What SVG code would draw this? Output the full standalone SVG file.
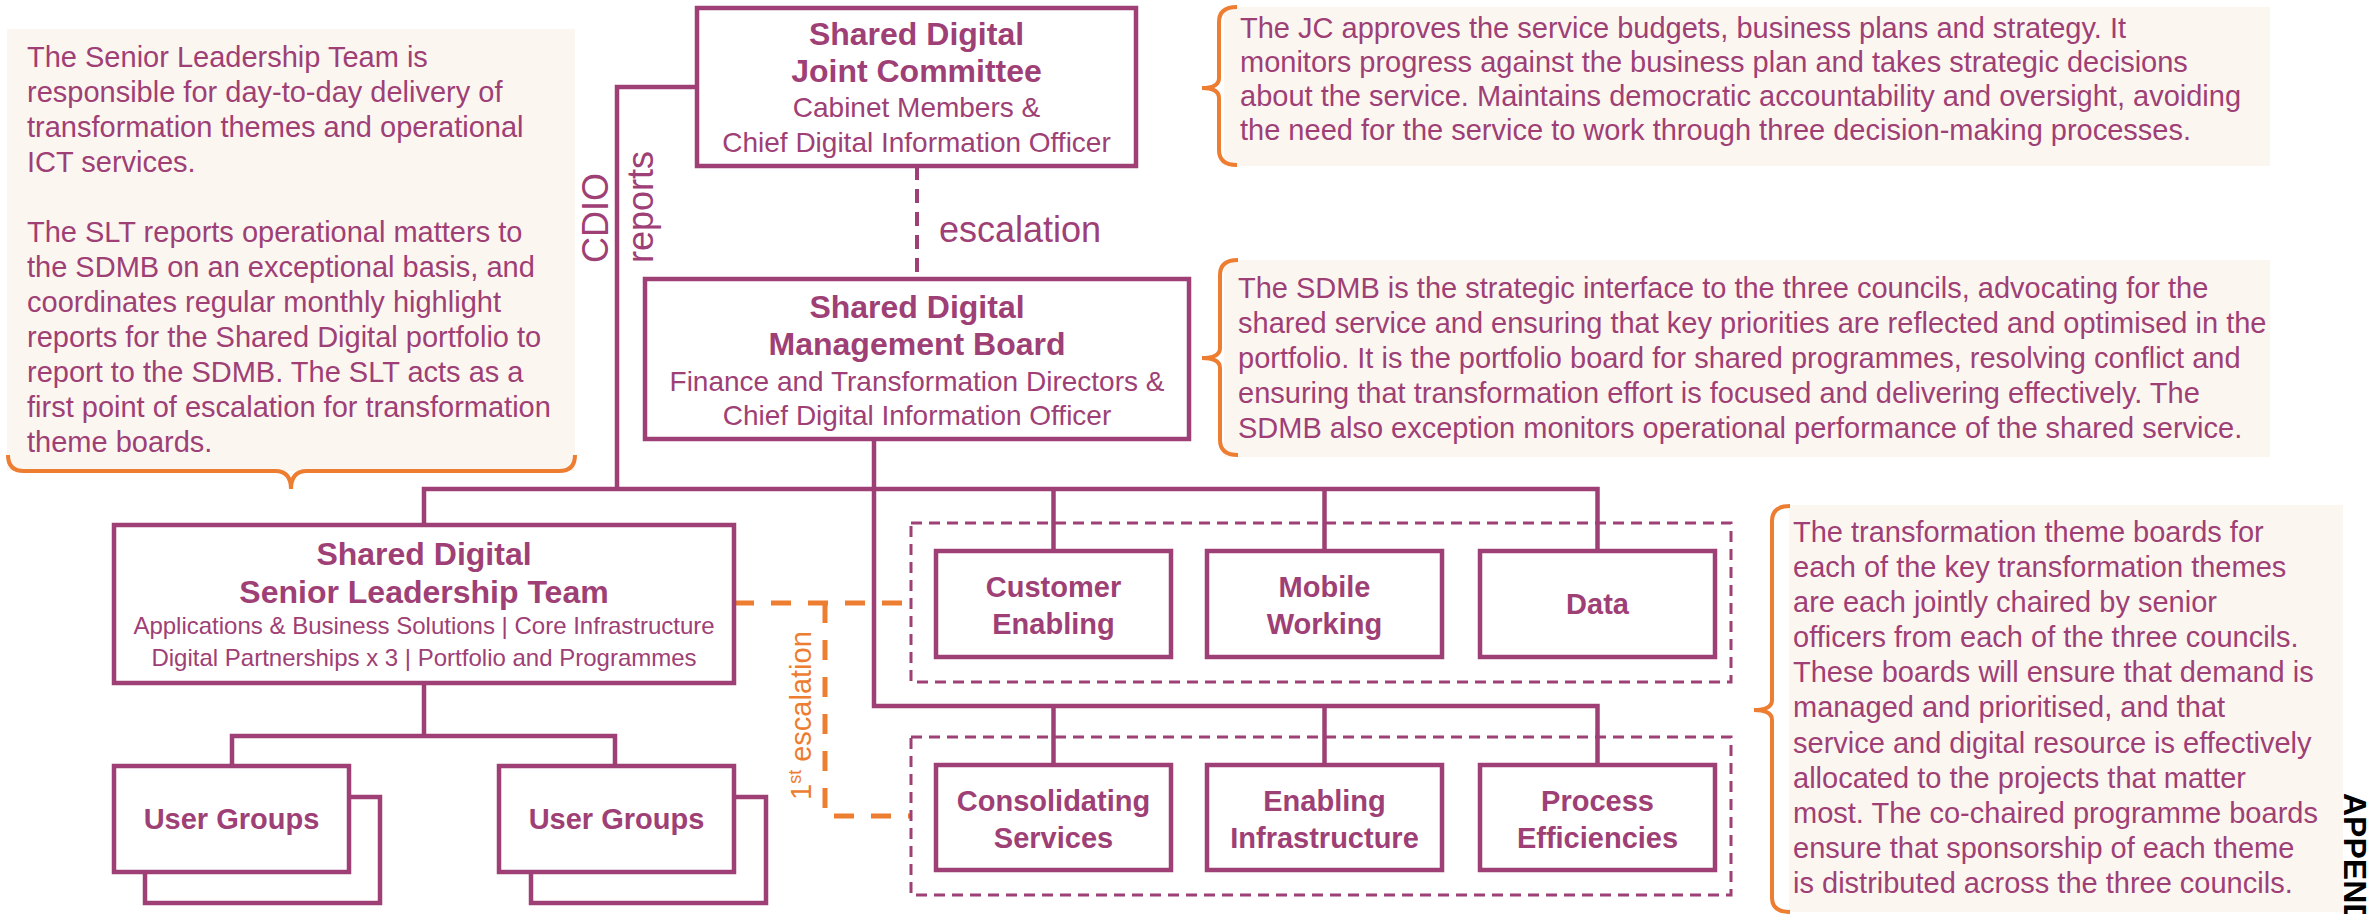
<svg xmlns="http://www.w3.org/2000/svg" width="2367" height="914" viewBox="0 0 2367 914">
<style>
.t{font-family:"Liberation Sans",Arial,sans-serif;fill:#9e4075}
.b{font-weight:bold}
.m{text-anchor:middle}
.body{font-size:29px}
.ttl{font-size:32px;font-weight:bold}
.sub{font-size:28px}
.sub2{font-size:24px}
.lbl{font-size:29px;font-weight:bold}
.box{fill:#fff;stroke:#9e4075;stroke-width:4.5}
.ln{fill:none;stroke:#9e4075;stroke-width:4.5}
.dbox{fill:none;stroke:#9e4075;stroke-width:3;stroke-dasharray:11 7}
.esc{fill:none;stroke:#9e4075;stroke-width:4;stroke-dasharray:14 9}
.oesc{fill:none;stroke:#ed7d31;stroke-width:5;stroke-dasharray:20 17}
.note{fill:#fcf6f1}
.brace{fill:none;stroke:#ed7d31;stroke-width:4}
</style>

<!-- notes -->
<g id="note-slt">
<rect class="note" x="7" y="29" width="568" height="442"/>
<path class="brace" d="M8 455 Q8 471 24 471 H275 Q291 471 291 489 Q291 471 307 471 H559 Q575 471 575 455"/>
<text class="t body">
<tspan x="27" y="67">The Senior Leadership Team is</tspan>
<tspan x="27" y="102">responsible for day-to-day delivery of</tspan>
<tspan x="27" y="137">transformation themes and operational</tspan>
<tspan x="27" y="172">ICT services.</tspan>
<tspan x="27" y="242">The SLT reports operational matters to</tspan>
<tspan x="27" y="277">the SDMB on an exceptional basis, and</tspan>
<tspan x="27" y="312">coordinates regular monthly highlight</tspan>
<tspan x="27" y="347">reports for the Shared Digital portfolio to</tspan>
<tspan x="27" y="382">report to the SDMB. The SLT acts as a</tspan>
<tspan x="27" y="417">first point of escalation for transformation</tspan>
<tspan x="27" y="452">theme boards.</tspan>
</text>
</g>

<g id="note-jc">
<rect class="note" x="1224" y="7" width="1046" height="159"/>
<path class="brace" d="M1237 7 Q1219 7 1219 22 V78 Q1219 88 1202 88 Q1219 88 1219 98 V150 Q1219 165 1237 165"/>
<text class="t body">
<tspan x="1240" y="38">The JC approves the service budgets, business plans and strategy. It</tspan>
<tspan x="1240" y="72">monitors progress against the business plan and takes strategic decisions</tspan>
<tspan x="1240" y="106">about the service. Maintains democratic accountability and oversight, avoiding</tspan>
<tspan x="1240" y="140">the need for the service to work through three decision-making processes.</tspan>
</text>
</g>

<g id="note-sdmb">
<rect class="note" x="1224" y="260" width="1046" height="197"/>
<path class="brace" d="M1238 260 Q1220 260 1220 275 V348 Q1220 358 1202 358 Q1220 358 1220 368 V440 Q1220 455 1238 455"/>
<text class="t body">
<tspan x="1238" y="298">The SDMB is the strategic interface to the three councils, advocating for the</tspan>
<tspan x="1238" y="333">shared service and ensuring that key priorities are reflected and optimised in the</tspan>
<tspan x="1238" y="368">portfolio. It is the portfolio board for shared programmes, resolving conflict and</tspan>
<tspan x="1238" y="403">ensuring that transformation effort is focused and delivering effectively. The</tspan>
<tspan x="1238" y="438">SDMB also exception monitors operational performance of the shared service.</tspan>
</text>
</g>

<g id="note-themes">
<rect class="note" x="1789" y="505" width="554" height="407"/>
<path class="brace" d="M1790 506 Q1772 506 1772 521 V700 Q1772 710 1754 710 Q1772 710 1772 720 V898 Q1772 912 1790 912"/>
<text class="t body">
<tspan x="1793" y="542">The transformation theme boards for</tspan>
<tspan x="1793" y="577">each of the key transformation themes</tspan>
<tspan x="1793" y="612">are each jointly chaired by senior</tspan>
<tspan x="1793" y="647">officers from each of the three councils.</tspan>
<tspan x="1793" y="682">These boards will ensure that demand is</tspan>
<tspan x="1793" y="717">managed and prioritised, and that</tspan>
<tspan x="1793" y="753">service and digital resource is effectively</tspan>
<tspan x="1793" y="788">allocated to the projects that matter</tspan>
<tspan x="1793" y="823">most. The co-chaired programme boards</tspan>
<tspan x="1793" y="858">ensure that sponsorship of each theme</tspan>
<tspan x="1793" y="893">is distributed across the three councils.</tspan>
</text>
</g>

<!-- connectors -->
<g id="connectors">
<path class="ln" d="M697 87 H617 V489"/>
<path class="ln" d="M424 524 V489 H1597.5 V551"/>
<path class="ln" d="M1053.5 489 V551"/>
<path class="ln" d="M1324.5 489 V551"/>
<path class="ln" d="M874 439 V706 H1597.5 V765"/>
<path class="ln" d="M1053.5 706 V765"/>
<path class="ln" d="M1324.5 706 V765"/>
<path class="ln" d="M424 683 V736"/>
<path class="ln" d="M232 766 V736 H615 V766"/>
<path class="esc" d="M917 166 V279"/>
<path class="oesc" d="M734 603 H911"/>
<path class="oesc" d="M825 603 V816 H911"/>
<text class="t" font-size="36" transform="translate(608 263) rotate(-90)">CDIO</text>
<text class="t" font-size="36" transform="translate(653 263) rotate(-90)">reports</text>
<text class="t" font-size="36" x="939" y="242">escalation</text>
<text class="t" font-size="29" style="fill:#ed7d31" transform="translate(811 800) rotate(-90)">1<tspan font-size="18" baseline-shift="super">st</tspan> escalation</text>
</g>

<!-- group frames -->
<rect class="dbox" x="911" y="523" width="820" height="159"/>
<rect class="dbox" x="911" y="737" width="820" height="158"/>

<!-- nodes -->
<g id="jc">
<rect class="box" x="697" y="8" width="439" height="158"/>
<text class="t m ttl"><tspan x="916.5" y="45">Shared Digital</tspan><tspan x="916.5" y="82">Joint Committee</tspan></text>
<text class="t m sub"><tspan x="916.5" y="117">Cabinet Members &amp;</tspan><tspan x="916.5" y="152">Chief Digital Information Officer</tspan></text>
</g>

<g id="sdmb">
<rect class="box" x="645" y="279" width="544" height="160"/>
<text class="t m ttl"><tspan x="917" y="318">Shared Digital</tspan><tspan x="917" y="355">Management Board</tspan></text>
<text class="t m sub"><tspan x="917" y="391">Finance and Transformation Directors &amp;</tspan><tspan x="917" y="425">Chief Digital Information Officer</tspan></text>
</g>

<g id="slt">
<rect class="box" x="114" y="525" width="620" height="158"/>
<text class="t m ttl"><tspan x="424" y="565">Shared Digital</tspan><tspan x="424" y="603">Senior Leadership Team</tspan></text>
<text class="t m sub2"><tspan x="424" y="634">Applications &amp; Business Solutions | Core Infrastructure</tspan><tspan x="424" y="666">Digital Partnerships x 3 | Portfolio and Programmes</tspan></text>
</g>

<g id="ug1">
<rect class="box" x="145" y="797" width="235" height="106"/>
<rect class="box" x="114" y="766" width="235" height="106"/>
<text class="t m lbl" x="231.5" y="829">User Groups</text>
</g>

<g id="ug2">
<rect class="box" x="531" y="797" width="235" height="106"/>
<rect class="box" x="499" y="766" width="235" height="106"/>
<text class="t m lbl" x="616.5" y="829">User Groups</text>
</g>

<g id="customer-enabling">
<rect class="box" x="936" y="551" width="235" height="106"/>
<text class="t m lbl"><tspan x="1053.5" y="597">Customer</tspan><tspan x="1053.5" y="634">Enabling</tspan></text>
</g>
<g id="mobile-working">
<rect class="box" x="1207" y="551" width="235" height="106"/>
<text class="t m lbl"><tspan x="1324.5" y="597">Mobile</tspan><tspan x="1324.5" y="634">Working</tspan></text>
</g>
<g id="data">
<rect class="box" x="1480" y="551" width="235" height="106"/>
<text class="t m lbl" x="1597.5" y="614">Data</text>
</g>
<g id="consolidating-services">
<rect class="box" x="936" y="765" width="235" height="105"/>
<text class="t m lbl"><tspan x="1053.5" y="811">Consolidating</tspan><tspan x="1053.5" y="848">Services</tspan></text>
</g>
<g id="enabling-infrastructure">
<rect class="box" x="1207" y="765" width="235" height="105"/>
<text class="t m lbl"><tspan x="1324.5" y="811">Enabling</tspan><tspan x="1324.5" y="848">Infrastructure</tspan></text>
</g>
<g id="process-efficiencies">
<rect class="box" x="1480" y="765" width="235" height="105"/>
<text class="t m lbl"><tspan x="1597.5" y="811">Process</tspan><tspan x="1597.5" y="848">Efficiencies</tspan></text>
</g>

<text font-family="Liberation Sans,Arial,sans-serif" font-weight="bold" font-size="32" fill="#000" transform="translate(2344 793) rotate(90)">APPEND</text>
</svg>
